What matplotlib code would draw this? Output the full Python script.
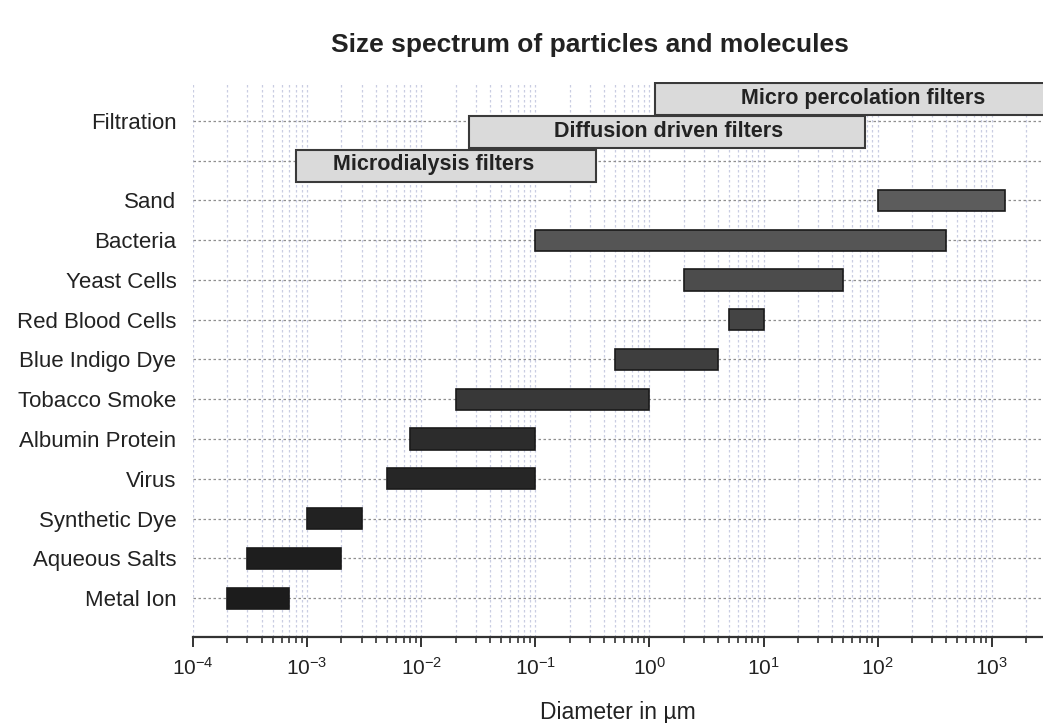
import matplotlib
matplotlib.use("Agg")
import matplotlib.pyplot as plt
from matplotlib.ticker import LogLocator, NullFormatter, FuncFormatter
import numpy as np

plt.rcParams['font.family'] = ['Liberation Sans', 'DejaVu Sans']
plt.rcParams['mathtext.fontset'] = 'custom'
plt.rcParams['mathtext.rm'] = 'Liberation Sans'
plt.rcParams['mathtext.default'] = 'regular'

# Particle size ranges (diameter in µm)
categories = ["Metal Ion", "Aqueous Salts", "Synthetic Dye", "Virus", "Albumin Protein",
              "Tobacco Smoke", "Blue Indigo Dye", "Red Blood Cells", "Yeast Cells",
              "Bacteria", "Sand"]
size_min = [2e-4, 3e-4, 1e-3, 5e-3, 8e-3, 0.02, 0.5, 5, 2, 0.1, 100]
size_max = [7e-4, 2e-3, 3e-3, 0.1, 0.1, 1.0, 4, 10, 50, 400, 1300]
bar_colors = ["#1c1c1c", "#1e1e1e", "#222222", "#262626", "#2c2c2c", "#383838",
              "#3e3e3e", "#444444", "#4c4c4c", "#555555", "#5c5c5c"]

# Filtration ranges
filters = ["Microdialysis filters", "Diffusion driven filters", "Micro percolation filters"]
filter_min = [8e-4, 0.026, 1.12]
filter_max = [0.34, 78, 1e4]
filter_rows = [10.87, 11.72, 12.55]

row_labels = categories + ["", "Filtration"]

fig = plt.figure(figsize=(10.43, 7.23), dpi=100)
ax = fig.add_axes([193 / 1043, 1 - 637 / 723, (1043 - 193) / 1043, (637 - 82) / 723])
ax.set_xscale('log')
xmin = 1e-4
xmax = 10 ** (-4 + 850 / 114.1)
ax.set_xlim(xmin, xmax)
ax.set_ylim(-0.98, 12.98)

# grid
ax.xaxis.set_minor_locator(LogLocator(base=10, subs=range(2, 10), numticks=100))
ax.xaxis.set_minor_formatter(NullFormatter())
ax.grid(True, which='both', axis='x', color='#c9cde2', linestyle=(0, (2, 2)), linewidth=0.9)
for i in range(len(row_labels)):
    ax.axhline(i, color='#8f8f8f', linestyle=(0, (2, 2)), linewidth=0.9, zorder=1)
ax.set_axisbelow(True)

# particle bars
for i, (lo, hi, c) in enumerate(zip(size_min, size_max, bar_colors)):
    ax.barh(i, hi - lo, left=lo, height=0.53, color=c, edgecolor='#1a1a1a',
            linewidth=1.2, zorder=3)

# filtration bars with labels
label_shift = [-12, 2, 14]
for name, lo, hi, r, dx in zip(filters, filter_min, filter_max, filter_rows, label_shift):
    ax.barh(r, hi - lo, left=lo, height=0.8, color='#dadada', edgecolor='#3a3a3a',
            linewidth=1.5, zorder=3, clip_on=True)
    xc = np.sqrt(lo * min(hi, xmax))
    ax.annotate(name, (xc, r), xytext=(dx, 1), textcoords='offset pixels',
                ha='center', va='center', fontsize=15.5, fontweight='bold',
                color='#222222', zorder=4)

ax.set_yticks(range(len(row_labels)))
ax.set_yticklabels(row_labels, fontsize=16, color='#222222')
ax.tick_params(axis='y', length=0, pad=12)

for s in ['left', 'right', 'top']:
    ax.spines[s].set_visible(False)
ax.spines['bottom'].set_color('#333333')
ax.spines['bottom'].set_linewidth(1.6)
ax.tick_params(axis='x', which='major', length=7, width=1.4, color='#333333',
               labelsize=15, labelcolor='#222222', pad=7)
ax.tick_params(axis='x', which='minor', length=4, width=1.2, color='#333333')
ax.set_xticks([10.0 ** k for k in range(-4, 4)])
ax.xaxis.set_major_formatter(FuncFormatter(lambda v, p: f"10$^{{{int(round(np.log10(v)))}}}$"))

ax.set_xlabel("Diameter in µm", fontsize=16.5, color='#222222', labelpad=16)
fig.text(590 / 1043, 1 - 45 / 723, "Size spectrum of particles and molecules",
         ha='center', va='center', fontsize=19, fontweight='bold', color='#222222')

fig.savefig("out.png", dpi=100, facecolor='white')
